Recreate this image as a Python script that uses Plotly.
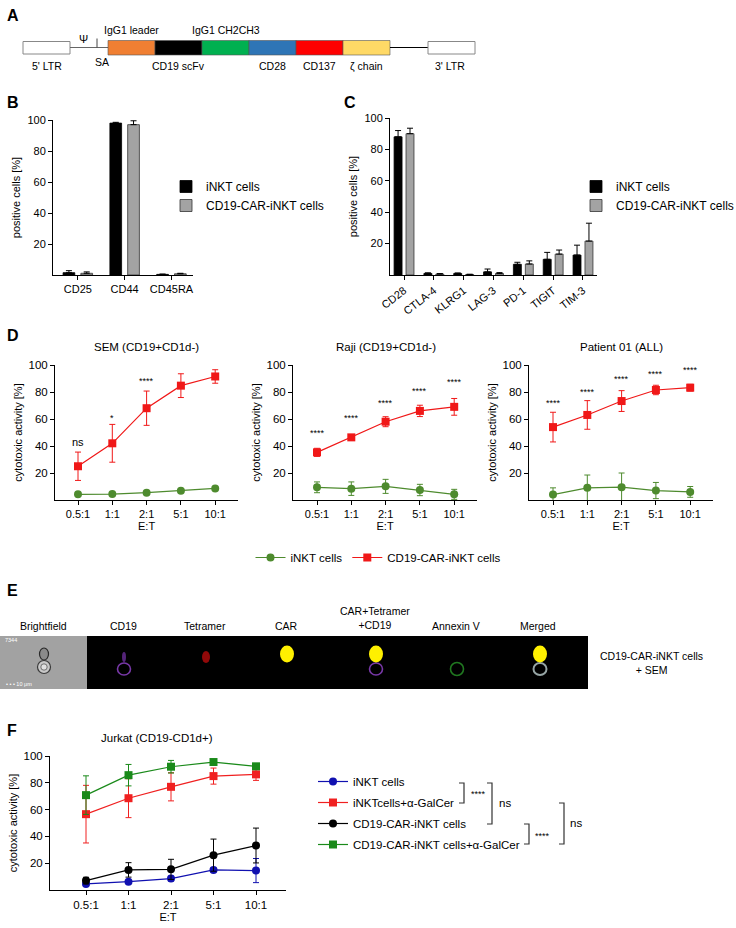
import plotly.graph_objects as go

W, H = 736, 928
def PX(x): return x / W
def PY(y): return 1 - y / H

FONT = "Liberation Sans, Arial, Helvetica, sans-serif"

# ---------------- Panel A: construct ----------------
a_parts = ["IgG1 leader", "CD19 scFv", "IgG1 CH2CH3", "CD28", "CD137", "ζ chain"]
a_part_colors = ["#F07F32", "#000000", "#00B050", "#2E75B6", "#FF0000", "#FFD966"]
a_label_above = [True, False, True, False, False, False]

# ---------------- Panel B ----------------
b_cats = ["CD25", "CD44", "CD45RA"]
b_inkt = [1.5, 98.0, 0.4]
b_inkt_err = [1.3, 0.5, 0.2]
b_car = [1.1, 97.0, 0.8]
b_car_err = [0.9, 2.5, 0.3]

# ---------------- Panel C ----------------
c_cats = ["CD28", "CTLA-4", "KLRG1", "LAG-3", "PD-1", "TIGIT", "TIM-3"]
c_inkt = [88.0, 1.0, 1.0, 2.0, 6.8, 10.0, 12.7]
c_inkt_err = [4.0, 0.4, 0.3, 1.8, 1.3, 4.4, 6.3]
c_car = [90.0, 0.6, 0.3, 1.0, 7.0, 13.3, 21.6]
c_car_err = [3.5, 0.3, 0.2, 0.5, 2.0, 2.6, 11.4]

# ---------------- Panel D ----------------
et_labels = ["0.5:1", "1:1", "2:1", "5:1", "10:1"]
et_idx = [0, 1, 2, 3, 4]

d_titles = ["SEM (CD19+CD1d-)", "Raji (CD19+CD1d-)", "Patient 01 (ALL)"]
d_car = [[25.0, 42.0, 68.0, 84.7, 91.5],
         [35.3, 46.4, 58.0, 66.0, 69.0],
         [54.0, 63.0, 73.3, 81.5, 83.2]]
d_car_err = [[10.5, 14.0, 12.7, 8.8, 5.0],
             [3.0, 2.0, 3.7, 4.2, 6.2],
             [11.0, 10.6, 7.7, 3.5, 2.5]]
d_inkt = [[4.2, 4.4, 5.4, 6.9, 8.6],
          [9.4, 8.4, 10.1, 7.4, 4.2],
          [4.0, 9.0, 9.5, 7.0, 6.0]]
d_inkt_err = [[0.8, 0.8, 0.8, 0.9, 1.0],
              [4.0, 5.0, 5.2, 4.2, 3.7],
              [5.0, 9.5, 10.5, 6.0, 4.0]]
d_sig = [["ns", "*", "****", "****", "****"],
         ["****", "****", "****", "****", "****"],
         ["****", "****", "****", "****", "****"]]
d_sig_y = [[43, 61, 88, 100.5, 103.5],
           [49.5, 60.5, 71.5, 80.5, 87.5],
           [72, 80, 89.5, 93.5, 96.5]]

# ---------------- Panel E ----------------
e_columns = ["Brightfield", "CD19", "Tetramer", "CAR", "CAR+Tetramer<br>+CD19", "Annexin V", "Merged"]
e_sample = "CD19-CAR-iNKT cells<br>+ SEM"

# ---------------- Panel F ----------------
f_names = ["iNKT cells", "iNKTcells+α-GalCer", "CD19-CAR-iNKT cells", "CD19-CAR-iNKT cells+α-GalCer"]
f_colors = ["#1010B0", "#F02020", "#000000", "#1A8A1A"]
f_symbols = ["circle", "square", "circle", "square"]
f_vals = [[4.5, 6.2, 8.5, 15.0, 14.5],
          [56.6, 68.5, 77.0, 85.0, 86.3],
          [7.0, 15.0, 15.4, 26.0, 33.2],
          [70.8, 85.7, 92.0, 95.5, 92.3]]
f_errs = [[1.0, 1.0, 1.8, 1.5, 9.0],
          [21.5, 14.5, 10.5, 6.0, 4.5],
          [2.5, 5.4, 7.5, 12.0, 13.0],
          [14.4, 8.0, 4.7, 1.5, 1.5]]

fig = go.Figure()

axis_common = dict(showline=True, linecolor="black", linewidth=1, ticks="outside",
                   ticklen=4, tickwidth=1, tickcolor="black", showgrid=False,
                   zeroline=False, automargin=False, tickfont=dict(size=11, color="black"))

# ---- B traces
fig.add_trace(go.Bar(x=b_cats, y=b_inkt, name="iNKT cells", marker=dict(color="black", line=dict(color="black", width=0.8)),
                     error_y=dict(type="data", array=b_inkt_err, symmetric=False, arrayminus=[0]*3, color="black", thickness=1, width=3),
                     width=0.25, offset=-0.315, xaxis="x", yaxis="y", legend="legend"))
fig.add_trace(go.Bar(x=b_cats, y=b_car, name="CD19-CAR-iNKT cells", marker=dict(color="#A3A3A3", line=dict(color="#333333", width=0.8)),
                     error_y=dict(type="data", array=b_car_err, symmetric=False, arrayminus=[0]*3, color="black", thickness=1, width=3),
                     width=0.25, offset=0.065, xaxis="x", yaxis="y", legend="legend"))

# ---- C traces
fig.add_trace(go.Bar(x=c_cats, y=c_inkt, name="iNKT cells", marker=dict(color="black", line=dict(color="black", width=0.8)),
                     error_y=dict(type="data", array=c_inkt_err, symmetric=False, arrayminus=[0]*7, color="black", thickness=1, width=3),
                     width=0.267, offset=-0.333, xaxis="x2", yaxis="y2", legend="legend2"))
fig.add_trace(go.Bar(x=c_cats, y=c_car, name="CD19-CAR-iNKT cells", marker=dict(color="#A3A3A3", line=dict(color="#333333", width=0.8)),
                     error_y=dict(type="data", array=c_car_err, symmetric=False, arrayminus=[0]*7, color="black", thickness=1, width=3),
                     width=0.267, offset=0.067, xaxis="x2", yaxis="y2", legend="legend2"))

# ---- D traces
GREEN_D = "#4E8B2E"
RED_D = "#F01818"
for i in range(3):
    xa = "x%d" % (i + 3)
    ya = "y%d" % (i + 3)
    fig.add_trace(go.Scatter(x=et_idx, y=d_inkt[i], mode="lines+markers", name="iNKT cells",
                             line=dict(color=GREEN_D, width=1.2), marker=dict(symbol="circle", size=8, color=GREEN_D),
                             error_y=dict(type="data", array=d_inkt_err[i], color=GREEN_D, thickness=1, width=3),
                             xaxis=xa, yaxis=ya, legend="legend3", showlegend=(i == 0), cliponaxis=False))
    fig.add_trace(go.Scatter(x=et_idx, y=d_car[i], mode="lines+markers", name="CD19-CAR-iNKT cells",
                             line=dict(color=RED_D, width=1.2), marker=dict(symbol="square", size=8, color=RED_D),
                             error_y=dict(type="data", array=d_car_err[i], color=RED_D, thickness=1, width=3),
                             xaxis=xa, yaxis=ya, legend="legend3", showlegend=(i == 0), cliponaxis=False))

# ---- F traces
for k, (n, c, s, v, e) in enumerate(zip(f_names, f_colors, f_symbols, f_vals, f_errs)):
    fig.add_trace(go.Scatter(x=et_idx, y=v, mode="lines+markers", name=n, legendgroup="g%d" % k,
                             line=dict(color=c, width=1.2), marker=dict(symbol=s, size=8, color=c),
                             error_y=dict(type="data", array=e, color=c, thickness=1, width=3),
                             xaxis="x6", yaxis="y6", legend="legend4", cliponaxis=False))

layout = dict(
    width=W, height=H, margin=dict(l=0, r=0, t=0, b=0, autoexpand=False),
    paper_bgcolor="white", plot_bgcolor="white",
    font=dict(family=FONT, size=11, color="black"),
    barmode="overlay",
)

# B axes
layout["xaxis"] = dict(axis_common, domain=[PX(53), PX(193)], range=[-0.53, 2.46], anchor="y")
layout["yaxis"] = dict(axis_common, domain=[PY(275), PY(120)], range=[0, 100], tickvals=[20, 40, 60, 80, 100], anchor="x",
                       title=dict(text="positive cells [%]", font=dict(size=11), standoff=4))
# C axes
layout["xaxis2"] = dict(axis_common, domain=[PX(390), PX(597)], range=[-0.47, 6.47], tickangle=-38, anchor="y2")
layout["yaxis2"] = dict(axis_common, domain=[PY(275), PY(118)], range=[0, 100], tickvals=[20, 40, 60, 80, 100], anchor="x2",
                        title=dict(text="positive cells [%]", font=dict(size=11), standoff=4))
# D axes
d_left = [55, 293, 529]
d_first = [78, 317, 553]
d_sp = 34.3
for i in range(3):
    right = d_first[i] + 4 * d_sp + 23
    layout["xaxis%d" % (i + 3)] = dict(axis_common, domain=[PX(d_left[i]), PX(right)],
                                      range=[(d_left[i] - d_first[i]) / d_sp, 4 + 23 / d_sp],
                                      tickvals=et_idx, ticktext=et_labels, anchor="y%d" % (i + 3),
                                      title=dict(text="E:T", font=dict(size=11), standoff=3))
    layout["yaxis%d" % (i + 3)] = dict(axis_common, domain=[PY(500), PY(365)], range=[0, 100],
                                      tickvals=[20, 40, 60, 80, 100], anchor="x%d" % (i + 3),
                                      tickfont=dict(size=11.5, color="black"),
                                      title=dict(text="cytotoxic activity [%]", font=dict(size=11), standoff=3))
# F axes
f_sp = 42.5
layout["xaxis6"] = dict(axis_common, domain=[PX(50), PX(286)], range=[(50 - 86) / f_sp, 4 + 30 / f_sp],
                        tickvals=et_idx, ticktext=et_labels, anchor="y6",
                        tickfont=dict(size=11.5, color="black"),
                        title=dict(text="E:T", font=dict(size=11), standoff=3))
layout["yaxis6"] = dict(axis_common, domain=[PY(890), PY(756)], range=[0, 100],
                        tickvals=[20, 40, 60, 80, 100], anchor="x6",
                        tickfont=dict(size=11.5, color="black"),
                        title=dict(text="cytotoxic activity [%]", font=dict(size=11), standoff=3))

leg_common = dict(bgcolor="rgba(0,0,0,0)", font=dict(size=12), xanchor="left", yanchor="top")
layout["legend"] = dict(leg_common, x=PX(166), y=PY(172))
layout["legend2"] = dict(leg_common, x=PX(576), y=PY(172))
layout["legend3"] = dict(leg_common, x=PX(378), xanchor="center", y=PY(543), orientation="h", font=dict(size=11.5))
layout["legend4"] = dict(leg_common, x=PX(313), y=PY(767), font=dict(size=11.5), tracegroupgap=2)

fig.update_layout(**layout)

shapes = []
ann = []

def txt(x, y, s, size=11, bold=False, xanchor="center", color="black", yanchor="middle"):
    ann.append(dict(x=PX(x), y=PY(y), xref="paper", yref="paper", text=("<b>%s</b>" % s) if bold else s,
                    showarrow=False, xanchor=xanchor, yanchor=yanchor, font=dict(size=size, color=color, family=FONT)))

# panel letters
for L, x, y in zip("ABCDEF", [5, 5, 342, 5, 5, 5], [15, 102, 102, 336, 590, 730]):
    txt(x, y, L, size=16, bold=True, xanchor="left")

# ---- Panel A drawing
y0a, y1a, ymid = 40.5, 55, 47.5
shapes.append(dict(type="rect", xref="paper", yref="paper", x0=PX(23), x1=PX(70), y0=PY(y1a - 1), y1=PY(y0a + 1),
                   line=dict(color="#888888", width=1), fillcolor="white"))
shapes.append(dict(type="line", xref="paper", yref="paper", x0=PX(70), x1=PX(108), y0=PY(ymid), y1=PY(ymid),
                   line=dict(color="#666666", width=1)))
shapes.append(dict(type="line", xref="paper", yref="paper", x0=PX(97), x1=PX(97), y0=PY(ymid), y1=PY(38.5),
                   line=dict(color="#444444", width=1)))
txt(83, 39, "Ψ", size=11)
txt(102, 62, "SA", size=10.5)
txt(47, 66, "5' LTR", size=10.5)
seg_x0, seg_w = 108, 47
for k, (p, col, above) in enumerate(zip(a_parts, a_part_colors, a_label_above)):
    xs = seg_x0 + k * seg_w
    shapes.append(dict(type="rect", xref="paper", yref="paper", x0=PX(xs), x1=PX(xs + seg_w), y0=PY(y1a), y1=PY(y0a),
                       line=dict(color="#555555", width=0.6), fillcolor=col))
    txt(xs + seg_w / 2, 30 if above else 66.5, p, size=10.5)
seg_end = seg_x0 + len(a_parts) * seg_w
shapes.append(dict(type="line", xref="paper", yref="paper", x0=PX(seg_end), x1=PX(428), y0=PY(ymid), y1=PY(ymid),
                   line=dict(color="black", width=1)))
shapes.append(dict(type="rect", xref="paper", yref="paper", x0=PX(428), x1=PX(475), y0=PY(y1a - 1), y1=PY(y0a + 1),
                   line=dict(color="#888888", width=1), fillcolor="white"))
txt(450, 66, "3' LTR", size=10.5)

# ---- Panel D titles and significance
d_xaxes = ["x3", "x4", "x5"]
d_yaxes = ["y3", "y4", "y5"]
for i in range(3):
    cx = d_first[i] + 2 * d_sp
    txt(cx, 347, d_titles[i], size=11.5)
    for j in range(5):
        ann.append(dict(x=et_idx[j], y=d_sig_y[i][j], xref=d_xaxes[i], yref=d_yaxes[i], text=d_sig[i][j],
                        showarrow=False, font=dict(size=11 if d_sig[i][j] == "ns" else 9, family=FONT, color="black")))

# ---- Panel E image strip
top, bot = 636, 689
shapes.append(dict(type="rect", xref="paper", yref="paper", x0=PX(0), x1=PX(87), y0=PY(bot), y1=PY(top),
                   line=dict(width=0), fillcolor="#A2A2A2"))
shapes.append(dict(type="rect", xref="paper", yref="paper", x0=PX(87), x1=PX(588), y0=PY(bot), y1=PY(top),
                   line=dict(width=0), fillcolor="#000000"))
col_x = [43, 123, 205, 286, 375, 456, 538]
for name, cx in zip(e_columns, col_x):
    txt(cx, 626 if "<br>" not in name else 618, name, size=10.5)
txt(598, 663, e_sample, size=10.5, xanchor="left")
txt(3, 640, "7344", size=5.5, xanchor="left", color="white")
txt(4, 684, "• • • 10 μm", size=5.5, xanchor="left", color="white")

def ell(cx, cy, rx, ry, fill="rgba(0,0,0,0)", line="rgba(0,0,0,0)", lw=1):
    shapes.append(dict(type="circle", xref="paper", yref="paper", x0=PX(cx - rx), x1=PX(cx + rx),
                       y0=PY(cy + ry), y1=PY(cy - ry), fillcolor=fill, line=dict(color=line, width=lw)))

ring_y, blob_y = 669, 654
# brightfield cell
ell(44, 667, 6.5, 6.5, fill="#C8C8C8", line="#3A3A3A", lw=1.2)
ell(44, 654, 4.5, 6, fill="#8A8A8A", line="#2A2A2A", lw=1.2)
ell(44, 667, 3.2, 3.2, fill="#E0E0E0", line="#555555", lw=0.8)
# CD19
ell(124, 657, 2, 5, fill="rgba(140,60,200,0.6)")
ell(124, ring_y, 6.5, 6, line="rgba(150,70,210,0.8)", lw=1.6)
# Tetramer
ell(206, 657, 4, 6, fill="rgba(170,10,10,0.85)")
# CAR
ell(287, blob_y, 7, 8.5, fill="#FFF000")
# CAR + Tetramer + CD19
ell(376, ring_y, 6.5, 6, line="rgba(150,70,210,0.8)", lw=1.6)
ell(376, blob_y, 7, 8.5, fill="#FFF000")
# Annexin V
ell(457, ring_y, 6.5, 6.5, line="rgba(40,150,40,0.8)", lw=1.6)
# Merged
ell(540, ring_y, 6.5, 6, line="rgba(200,220,220,0.75)", lw=2)
ell(540, blob_y, 7, 8.5, fill="#FFF000")

# ---- Panel F title, brackets
txt(157, 738, "Jurkat (CD19-CD1d+)", size=11.5)

def bracket(x, ya, yb, stub=5):
    shapes.append(dict(type="path", xref="paper", yref="paper",
                       path="M %f %f L %f %f L %f %f L %f %f" % (PX(x - stub), PY(ya), PX(x), PY(ya), PX(x), PY(yb), PX(x - stub), PY(yb)),
                       line=dict(color="#333333", width=1.2)))

rows = [783, 803, 824, 844]
bracket(464, rows[0], rows[1])
txt(478, 794, "****", size=9)
bracket(492, rows[0], rows[2])
txt(497, 803, "ns", size=11.5, xanchor="left")
bracket(529, rows[2], rows[3])
txt(542, 836, "****", size=9)
bracket(564, rows[1], rows[3])
txt(568, 823, "ns", size=11.5, xanchor="left")

fig.update_layout(shapes=shapes, annotations=ann)
fig.write_html("out.html", config={"displayModeBar": False},
               post_script="document.body.style.margin='0px';document.body.style.padding='0px';")
